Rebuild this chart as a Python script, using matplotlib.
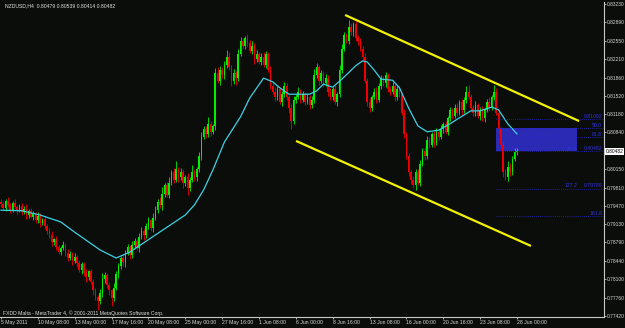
import numpy as np
import matplotlib.pyplot as plt
from matplotlib.patches import Rectangle

# NZDUSD H4 closes, in pips (price * 10000)
closes = [
    7950, 7944, 7956, 7948, 7940, 7952, 7945,
    7938, 7946, 7935, 7942, 7930, 7938, 7927,
    7932, 7920, 7928, 7915, 7922, 7910,
    7900, 7892, 7880, 7885, 7870, 7862, 7868,
    7875, 7860, 7850, 7858, 7845, 7852,
    7840, 7828, 7838, 7822, 7815, 7825,
    7805, 7790, 7778, 7770, 7785,
    7810, 7818, 7800, 7790, 7775,
    7795, 7820, 7835, 7850, 7842, 7860,
    7870, 7855, 7875, 7882, 7868, 7890,
    7900, 7892, 7910, 7920, 7905, 7925,
    7940, 7955, 7948, 7970, 7985, 7968,
    7990, 8010, 7995, 8015, 8000, 8010,
    7990, 8000, 7980, 7995, 8010, 8000, 8015,
    8040, 8075, 8090, 8080, 8100, 8085, 8095,
    8195, 8180, 8200, 8190, 8210,
    8225, 8205, 8180, 8195,
    8185, 8230, 8255, 8245, 8260,
    8250, 8235, 8245, 8220, 8230, 8215,
    8225, 8210, 8230, 8200,
    8170, 8160, 8150, 8165, 8140, 8155,
    8170, 8150, 8130, 8105, 8145,
    8150, 8160, 8145, 8155, 8140, 8150, 8135, 8145,
    8190, 8205, 8180, 8195, 8175, 8185,
    8160, 8150, 8165, 8140, 8155,
    8200, 8240, 8265, 8255,
    8280, 8270, 8285, 8260,
    8255, 8240, 8225,
    8180, 8140, 8130,
    8150, 8160, 8145, 8170,
    8185, 8175, 8190, 8165,
    8160, 8170, 8150, 8165, 8155,
    8120, 8080, 8040, 8010, 7995,
    7985, 8010, 7990, 8025,
    8050, 8040, 8070, 8060, 8080, 8065,
    8085, 8075, 8090, 8100, 8085,
    8110, 8125, 8115, 8130, 8120, 8140, 8125, 8145, 8160,
    8150, 8130, 8120, 8135, 8115, 8125,
    8110, 8125, 8140, 8130, 8150, 8160,
    8120, 8090, 8060, 8010,
    8000, 8020, 8010, 8035, 8047.9, 8048.2,
]
first_open = 7955

# wick lengths above / below the body, pips
up = [
    4, 6, 3, 8, 5, 4, 7, 3, 5, 6, 4, 8, 3, 5, 6,
    4, 7, 5, 3, 6, 4, 5, 8, 3, 6, 4, 5, 7, 3, 6,
    5, 4, 8, 3, 6, 5, 4, 7, 3, 5, 6, 4, 3, 8, 12,
    6, 4, 5, 3, 9, 5, 6, 4, 8, 5, 6, 4, 7, 5, 3,
    6, 8, 4, 5, 7, 3, 9, 6, 4, 8, 12, 5, 6, 10, 4,
    7, 15, 5, 8, 6, 4, 9, 5, 14, 6, 4, 8, 10, 6, 5,
    12, 6, 4, 8, 10, 7, 5, 6, 12, 8, 5, 7, 4, 9, 6,
    5, 4, 8, 6, 10, 5, 7, 4, 6, 9, 5, 4, 7, 6, 8,
    5, 4, 6, 8, 5, 4, 6, 7, 5, 8, 4, 6, 5, 7, 4,
    6, 12, 8, 5, 6, 4, 7, 5, 6, 4, 8, 5, 10, 8, 6,
    4, 13, 8, 5, 7, 6, 5, 4, 6, 5, 7, 4, 6, 8, 5,
    6, 4, 7, 5, 6, 8, 4, 5, 6, 4, 7, 5, 6, 4, 8,
    6, 5, 7, 4, 6, 8, 5, 4, 6, 7, 5, 8, 4, 6, 5,
    7, 4, 6, 8, 5, 6, 4, 10, 12, 6, 5, 7, 4, 6, 8,
    5, 6, 9, 4, 12, 6, 5, 4, 8, 5, 10, 6, 4, 7, 5.7,
]
dn = [
    5, 4, 6, 3, 7, 5, 4, 6, 3, 5, 4, 7, 5, 3, 6,
    4, 5, 7, 3, 6, 5, 4, 8, 5, 6, 4, 7, 3, 6, 5,
    4, 8, 5, 6, 4, 7, 5, 10, 6, 4, 8, 6, 17, 5, 7,
    6, 5, 8, 14, 6, 4, 7, 5, 6, 8, 4, 6, 5, 7, 4,
    6, 5, 8, 4, 6, 5, 7, 4, 6, 5, 8, 6, 4, 7, 5,
    6, 4, 8, 5, 10, 6, 12, 5, 4, 7, 6, 5, 8, 4, 6,
    5, 7, 4, 6, 5, 8, 4, 6, 7, 5, 10, 6, 12, 5, 4,
    6, 5, 7, 4, 6, 8, 5, 4, 6, 5, 7, 4, 6, 5, 8,
    6, 4, 7, 5, 6, 10, 14, 5, 6, 4, 7, 5, 6, 4, 8,
    5, 6, 4, 7, 5, 6, 4, 8, 5, 6, 4, 7, 5, 6, 4,
    5, 7, 4, 6, 5, 8, 4, 6, 5, 7, 8, 6, 4, 7, 5,
    6, 4, 7, 5, 6, 4, 8, 5, 6, 4, 7, 6, 8, 7, 5,
    8, 5, 6, 4, 7, 5, 6, 4, 8, 5, 6, 4, 7, 5, 6,
    4, 7, 5, 6, 4, 8, 5, 6, 4, 7, 5, 6, 4, 8, 5,
    6, 4, 7, 5, 6, 4, 8, 6, 9, 5, 6, 8, 5, 4, 6.5,
]

# moving average (bar index, pips)
ma_idx = [0, 9, 17, 26, 32, 43, 50, 56, 65, 73, 80, 84, 88, 92, 97, 104, 108,
          114, 118, 121, 125, 134, 137, 140, 144, 148, 154, 157, 159, 162, 165,
          170, 173, 177, 181, 185, 190, 195, 199, 204, 208, 213, 216, 220, 224]
ma_val = [7939, 7938, 7930, 7917, 7898, 7865, 7850, 7861, 7887, 7910, 7930,
          7949, 7977, 8014, 8066, 8113, 8148, 8185, 8178, 8167, 8155, 8155,
          8161, 8174, 8168, 8183, 8208, 8217, 8215, 8200, 8183, 8181, 8167,
          8129, 8096, 8085, 8088, 8100, 8111, 8124, 8124, 8131, 8126, 8100, 8081]

# channel lines (bar index, price)
upper_x = [149.4, 251.0]
upper_y = [0.83025, 0.81050]
lower_x = [128.1, 230.1]
lower_y = [0.80680, 0.78724]

# fibo levels
fib_prices = [0.81092, 0.80919, 0.80746, 0.80490, 0.79789, 0.79282]
fib_right = ['0.81092', '50.0', '61.8', '0.80482', '0.79789', '161.8']
fib_left = ['', '', '', '78.6', '127.2', '']
box_x = [215, 250.1]
box_y = [0.80490, 0.80919]

ytick_vals = [0.83230, 0.82890, 0.82550, 0.82210, 0.81860, 0.81520, 0.81180,
              0.80840, 0.80150, 0.79810, 0.79470, 0.79130, 0.78790, 0.78440,
              0.78100, 0.77760, 0.77420]
xtick_labels = ['5 May 2011', '10 May 08:00', '13 May 00:00', '17 May 16:00',
                '20 May 08:00', '25 May 00:00', '27 May 16:00', '1 Jun 08:00',
                '6 Jun 00:00', '8 Jun 16:00', '13 Jun 08:00', '16 Jun 00:00',
                '20 Jun 16:00', '23 Jun 08:00', '28 Jun 00:00']
last_price = 0.80482

bg = '#0b0d0b'
fnt = ['Liberation Sans', 'DejaVu Sans']
fs = 3.7
fs_y = 3.5

c = np.array(closes) / 1e4
o = np.concatenate([[first_open / 1e4], c[:-1]])
hi = np.maximum(o, c) + np.array(up) / 1e4
lo = np.minimum(o, c) - np.array(dn) / 1e4
x = np.arange(len(c))
bull = c >= o

fig = plt.figure(figsize=(6.25, 3.28), dpi=100, facecolor=bg)
ax = fig.add_axes([0, 11 / 328, 604 / 625, 315 / 328], facecolor=bg)

ax.add_patch(Rectangle((box_x[0], box_y[0]), box_x[1] - box_x[0], box_y[1] - box_y[0],
                       facecolor='#2a2ab4', edgecolor='none', zorder=0.5))

cols = np.where(bull, '#00f000', '#f00000')
ax.vlines(x, lo, hi, colors=cols, lw=0.6, zorder=2)
body_h = np.maximum(np.abs(c - o), 0.00008)
ax.bar(x, body_h, bottom=np.minimum(o, c), width=0.7, color=cols, lw=0, zorder=2)

ax.plot(np.array(ma_idx), np.array(ma_val) / 1e4, color='#3cd2e4', lw=0.9, zorder=3)

ax.plot(upper_x, upper_y, color='#f2f200', lw=1.6, solid_capstyle='butt', zorder=4)
ax.plot(lower_x, lower_y, color='#f2f200', lw=1.6, solid_capstyle='butt', zorder=4)

ax.hlines(fib_prices, box_x[0], 262.5, colors='#2424d0', lw=0.6,
          linestyles=(0, (1, 1.5)), zorder=3)
for p, r, l in zip(fib_prices, fib_right, fib_left):
    ax.text(261.0, p + 0.00005, r, color='#3030e8', fontsize=fs, family=fnt,
            ha='right', va='bottom', zorder=5)
    if l:
        ax.text(250.1, p + 0.00005, l, color='#3030e8', fontsize=fs, family=fnt,
                ha='right', va='bottom', zorder=5)

ax.set_xlim(-0.43, 261.8)
ax.set_ylim(0.77401, 0.83267)

for s in ['left', 'top']:
    ax.spines[s].set_visible(False)
for s in ['right', 'bottom']:
    ax.spines[s].set_color('#c8c8c8')
    ax.spines[s].set_linewidth(0.8)

ax.yaxis.tick_right()
ax.set_yticks(ytick_vals)
ax.set_yticklabels(['%.5f' % v for v in ytick_vals], family=fnt)
ax.set_xticks(np.arange(len(xtick_labels)) * 16)
ax.set_xticklabels(xtick_labels, family=fnt, ha='left')
ax.tick_params(colors='#c8c8c8', labelcolor='#d8d8d8', labelsize=fs,
               length=1.5, width=0.6, pad=0.8)
ax.tick_params(axis='y', labelsize=fs_y, pad=0.5)

ax.annotate('%.5f' % last_price, xy=(1.0, last_price), xycoords=('axes fraction', 'data'),
            xytext=(1.4, 0), textcoords='offset points', fontsize=fs_y, family=fnt,
            color='black', va='center', ha='left',
            bbox=dict(boxstyle='square,pad=0.12', fc='white', ec='none'))

fig.text(5 / 625, 1 - 6 / 328, 'NZDUSD,H4  0.80479 0.80539 0.80414 0.80482',
         color='#e0e0e0', fontsize=fs, family=fnt, va='center')
fig.text(3 / 625, 1 - 313 / 328,
         'FXDD Malta - MetaTrader 4, \u00a9 2001-2011 MetaQuotes Software Corp.',
         color='#e0e0e0', fontsize=fs, family=fnt, va='center')

fig.savefig('out.png', dpi=100, facecolor=bg)
